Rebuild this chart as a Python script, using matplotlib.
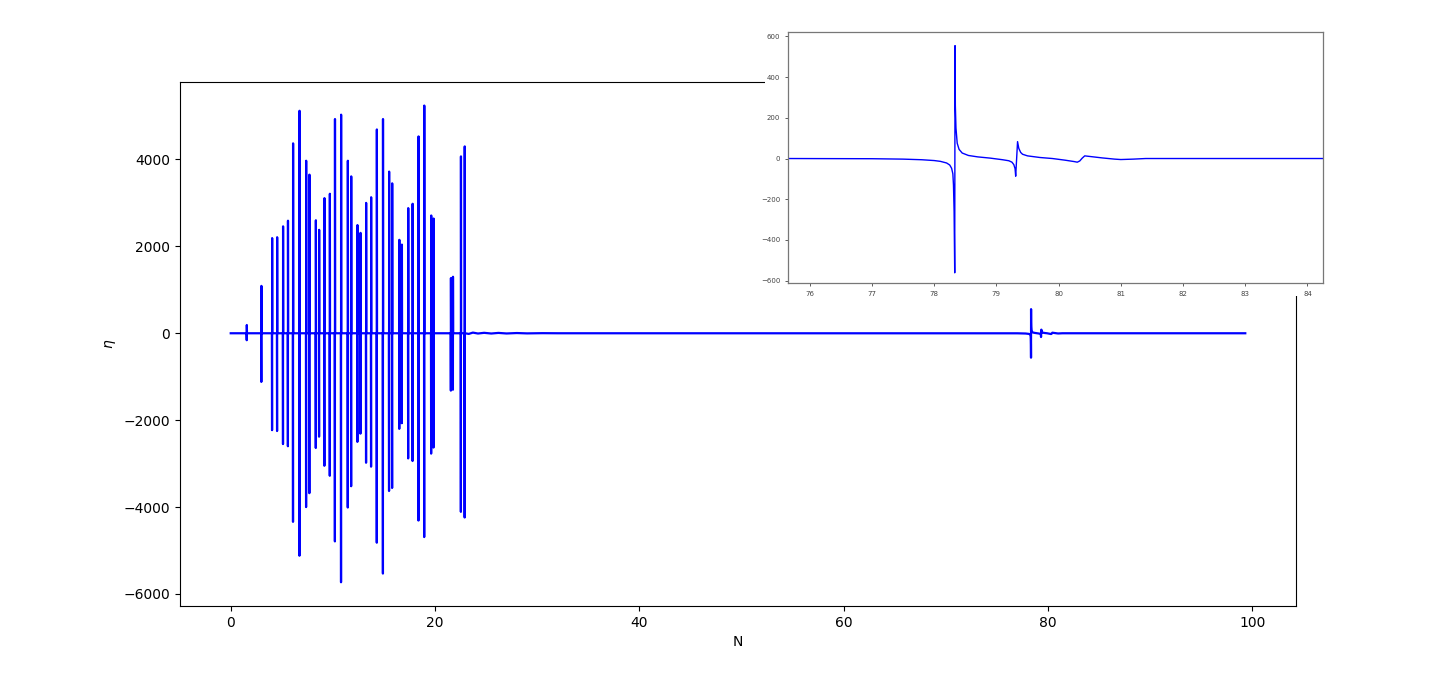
import matplotlib
matplotlib.use('Agg')
import matplotlib.pyplot as plt
import numpy as np
from matplotlib.patches import Rectangle

# spikes in the main burst (N, max eta, min eta)
spike_n = [1.57, 3.0, 4.05, 4.54, 5.12, 5.6, 6.1, 6.73, 7.38, 7.7,
           8.33, 8.65, 9.17, 9.7, 10.2, 10.8, 11.46, 11.79, 12.4, 12.7,
           13.25, 13.74, 14.3, 14.9, 15.5, 15.8, 16.5, 16.75, 17.37, 17.8,
           18.38, 18.94, 19.62, 19.85, 21.55, 21.75, 22.53, 22.9]
spike_up = [190, 1090, 2190, 2210, 2460, 2590, 4370, 5120, 3970, 3650,
            2600, 2380, 3110, 3210, 4930, 5030, 3970, 3610, 2490, 2310,
            3000, 3130, 4690, 4930, 3720, 3450, 2150, 2040, 2880, 2980,
            4530, 5240, 2710, 2640, 1270, 1300, 4070, 4300]
spike_down = [-160, -1120, -2230, -2250, -2550, -2600, -4340, -5120, -4000, -3680,
              -2640, -2380, -3050, -3280, -4790, -5730, -4010, -3520, -2500, -2310,
              -2980, -3070, -4820, -5530, -3630, -3560, -2200, -2070, -2880, -2940,
              -4310, -4690, -2770, -2630, -1320, -1300, -4110, -4240]

# slow part of the signal (N, eta)
base_n = [0.0, 1.4, 23.3, 23.7, 24.2, 24.8, 25.5, 26.2, 27.0, 28.0, 29.0, 30.5, 32.0,
          75.6, 77.0, 77.5, 77.8, 78.0, 78.1, 78.2, 78.25, 78.28, 78.30, 78.31, 78.32,
          78.33, 78.335, 78.34, 78.35, 78.37, 78.40, 78.45, 78.55, 78.7, 78.9,
          79.1, 79.2, 79.25, 79.28, 79.30, 79.31, 79.34, 79.36, 79.39,
          79.42, 79.5, 79.7, 79.9, 80.1, 80.25, 80.30, 80.34, 80.38, 80.42, 80.5, 80.7,
          80.9, 81.0, 81.2, 81.4, 84.3, 99.3]
base_eta = [0, 0, -15, 15, -6, 10, -6, 8, -5, 5, -3, 2, 0,
            0, -1, -3, -6, -10, -14, -22, -32, -48, -75, -130, -260,
            -562, 555, 260, 150, 75, 45, 27, 15, 8, 2,
            -6, -11, -18, -30, -50, -87, 83, 50, 30,
            21, 13, 5, 0, -8, -15, -18, -12, 2, 13, 10, 3,
            -3, -5, -3, 0, 0, 0]

pts = list(zip(base_n, base_eta))
for n, up, down in zip(spike_n, spike_up, spike_down):
    pts += [(n - 0.02, 0), (n - 0.004, down), (n + 0.004, up), (n + 0.02, 0)]
pts.sort(key=lambda p: p[0])
N = np.array([p[0] for p in pts])
eta = np.array([p[1] for p in pts])

fig = plt.figure(figsize=(14.4, 6.81), dpi=100)
ax = fig.add_subplot(111)
ax.plot(N, eta, color='blue', lw=1.6)
ax.set_xlabel('N')
ax.set_ylabel(r'$\eta$')

# white patch behind the inset (it covers the main frame there)
fig.patches.append(Rectangle((765 / 1440, (681 - 296) / 681), 565 / 1440, 276 / 681,
                             transform=fig.transFigure, facecolor='white',
                             edgecolor='none', zorder=5))

axin = fig.add_axes([788 / 1440, (681 - 283) / 681, 535 / 1440, 251 / 681], zorder=10)
axin.plot(N, eta, color='blue', lw=1.0)
axin.set_xlim(75.65, 84.25)
axin.set_ylim(-612, 622)
axin.set_xticks(np.arange(76, 85, 1))
axin.set_yticks([-600, -400, -200, 0, 200, 400, 600])
axin.tick_params(labelsize=5, length=2, width=0.6, colors='#444444')
for s in axin.spines.values():
    s.set_color('#777777')
    s.set_linewidth(0.9)

plt.savefig('out.png')
plt.close()
